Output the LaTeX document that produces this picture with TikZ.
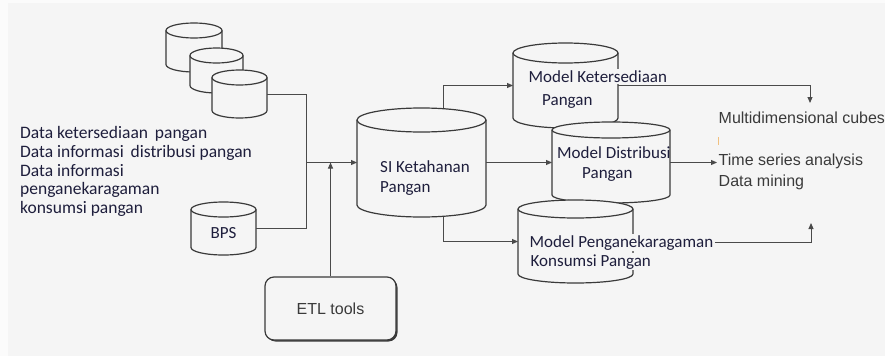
\documentclass[tikz,border=0pt]{standalone}
\usepackage{fontspec}
\setmainfont{Carlito}
\newfontfamily\arialf{Liberation Sans}
\usetikzlibrary{arrows.meta,calc}
\definecolor{bg}{HTML}{F5F5F5}
\definecolor{edge}{HTML}{FBFBFB}
\definecolor{ln}{HTML}{3A3A3A}
\definecolor{cn}{HTML}{4A4A4A}
\definecolor{tx}{HTML}{1E1E3C}
\definecolor{tg}{HTML}{3A3A3A}
\definecolor{tickmark}{HTML}{F0C080}
\tikzset{
  cylline/.style={draw=ln, line width=1.2pt},
  conn/.style={draw=cn, line width=0.95pt},
  arr/.style={conn, -{Triangle[length=6pt,width=5pt]}},
  lbl/.style={font=\fontsize{17}{20}\selectfont, text=tx, inner sep=0pt, anchor=base west},
  srclbl/.style={lbl, font=\fontsize{17.5}{20}\selectfont},
  lblfill/.style={lbl, fill=bg, inner sep=1.5pt},
  rlbl/.style={font=\arialf\fontsize{16}{19}\selectfont, text=tg, inner sep=1.5pt, anchor=base west},
  etlbox/.style={draw=ln, line width=1.2pt, fill=bg, rounded corners=9pt, minimum width=131pt, minimum height=63pt, font=\arialf\fontsize{16}{19}\selectfont, text=tg},
}
% name, cx, cy, w, h, ry
\newcommand{\cylnode}[6]{%
  \node[minimum width=#4pt, minimum height=#5pt, inner sep=0pt, outer sep=0pt] (#1) at (#2,#3) {};
  \filldraw[cylline, fill=bg] ($(#1.north west)+(0,-#6)$) -- ($(#1.south west)+(0,#6)$)
    arc[start angle=180, end angle=360, x radius={#4/2}, y radius=#6]
    -- ($(#1.north east)+(0,-#6)$)
    arc[start angle=0, end angle=180, x radius={#4/2}, y radius=#6] -- cycle;
  \draw[cylline] ($(#1.north west)+(0,-#6)$)
    arc[start angle=180, end angle=360, x radius={#4/2}, y radius=#6];
}
\begin{document}
\begin{tikzpicture}[x=1pt, y=1pt]
\useasboundingbox (0,0) rectangle (885,-356);
\fill[edge] (0,0) rectangle (885,-356);
\fill[bg] (8,-3) rectangle (885,-356);

% source databases
\cylnode{db1}{194}{-47.5}{56}{49}{7.5}
\cylnode{db2}{216.5}{-70.5}{53}{45}{7.5}
\cylnode{db3}{239.5}{-94}{55}{48}{7.5}
\cylnode{bps}{223.5}{-228.5}{65}{53}{7.5}
\node[lbl, anchor=base] (bpst) at (223.5,-238) {BPS};

% left labels
\node[srclbl] (src1) at (20,-138) {Data ketersediaan\, pangan};
\node[srclbl] (src2) at (20,-157) {Data informasi\, distribusi pangan};
\node[srclbl] (src3) at (20,-176) {Data informasi};
\node[srclbl] (src4) at (20,-194.5) {penganekaragaman};
\node[srclbl] (src5) at (20,-213) {konsumsi pangan};

% SI
\cylnode{si}{421.5}{-162.5}{129}{109}{12}
\node[lbl] (si1) at (380,-172) {SI Ketahanan};
\node[lbl] (si2) at (380,-192) {Pangan};

% ETL
\fill[ln, rounded corners=9pt] (266.5,-278.5) rectangle (397.5,-341.5);
\node[etlbox] (etl) at (330.5,-308.5) {ETL tools};

% models
\cylnode{mk}{565.5}{-85.5}{105}{85}{10}
\node[lblfill] (mk1) at (527,-82) {Model Ketersediaan};
\node[lbl] (mk2) at (542,-105) {Pangan};
\cylnode{md}{611}{-162.5}{118}{81}{8}
\node[lbl] (md1) at (557,-158) {Model Distribusi};
\node[lbl] (md2) at (582,-178) {Pangan};
\cylnode{mp}{575.5}{-241.5}{115}{83}{9}
\node[lblfill] (mp1) at (528,-247) {Model Penganekaragaman};
\node[lblfill] (mp2) at (529,-266) {Konsumsi Pangan};

% outputs
\node[rlbl] (cubes) at (717,-123) {Multidimensional cubes};
\node[rlbl] (tsa) at (717,-165) {Time series analysis};
\node[rlbl] (dm) at (717,-186) {Data mining};
\draw[tickmark, line width=1pt] (718,-137) -- (718,-145);

% connectors
\coordinate (jm) at (306,-162.5);
\draw[conn] (db3.east) -| (jm);
\draw[conn] (bps.east) -| (jm);
\draw[arr] (jm) -- (si.west);
\draw[arr] (etl.north) -- (etl.north |- si.west);
\draw[arr] ($(si.north)+(21.5,0)$) |- (mk.west);
\draw[arr] ($(si.south)+(21.5,0)$) |- (mp.west);
\draw[arr] (si.east) -- (md.west);
\coordinate (tcube) at (810,-103);
\draw[arr] (mk.east) -| (tcube);
\draw[arr] (md.east) -- (md.east -| tsa.west);
\coordinate (tdm) at (811,-223);
\draw[arr] (mp1.east) -| (tdm);
\end{tikzpicture}
\end{document}
